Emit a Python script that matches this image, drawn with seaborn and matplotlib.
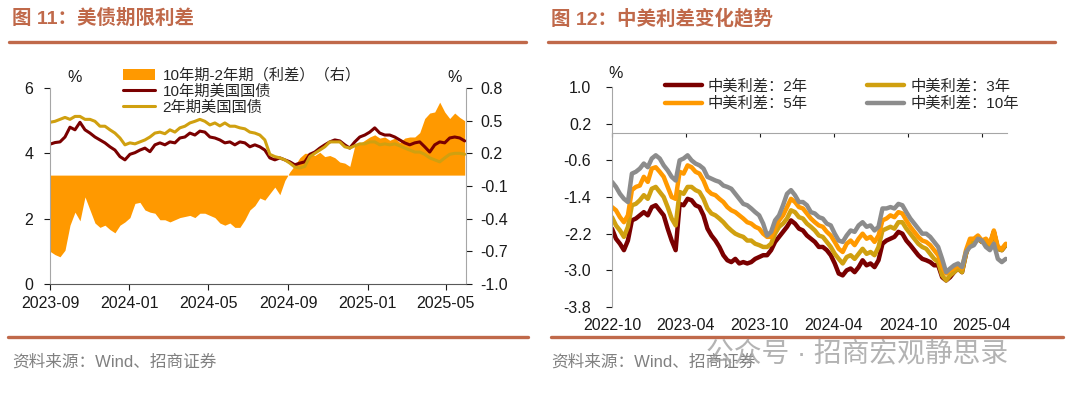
import matplotlib
matplotlib.use("Agg")
import matplotlib.pyplot as plt
import matplotlib.dates as mdates
from matplotlib.lines import Line2D
from matplotlib.patches import Patch
from matplotlib.ticker import FormatStrFormatter
import seaborn as sns
import pandas as pd

# ---------------- 图11：美债期限利差 ----------------
us_start, us_end = "2023-09-01", "2025-05-30"
ust_10y = [4.28, 4.33, 4.35, 4.50, 4.80, 4.72, 4.95, 4.72, 4.62, 4.50,
           4.41, 4.32, 4.20, 4.10, 3.90, 3.80, 3.97, 4.02, 4.10, 4.16,
           4.05, 4.26, 4.32, 4.26, 4.35, 4.32, 4.47, 4.50, 4.62, 4.56,
           4.68, 4.65, 4.50, 4.47, 4.41, 4.32, 4.35, 4.26, 4.35, 4.32,
           4.20, 4.26, 4.20, 4.10, 3.86, 3.80, 3.86, 3.80, 3.74, 3.65,
           3.70, 3.74, 3.97, 4.04, 4.16, 4.26, 4.35, 4.41, 4.38, 4.26,
           4.16, 4.35, 4.50, 4.56, 4.65, 4.78, 4.62, 4.56, 4.56, 4.50,
           4.41, 4.32, 4.26, 4.32, 4.35, 4.20, 4.04, 4.26, 4.35, 4.32,
           4.47, 4.50, 4.47, 4.38]
ust_2y = [4.95, 4.98, 5.04, 5.10, 5.04, 5.13, 5.13, 5.04, 5.04, 4.98,
          4.83, 4.83, 4.72, 4.62, 4.47, 4.26, 4.32, 4.29, 4.35, 4.41,
          4.50, 4.62, 4.65, 4.60, 4.72, 4.65, 4.78, 4.83, 4.93, 4.98,
          5.04, 4.98, 4.87, 4.93, 4.84, 4.93, 4.83, 4.83, 4.78, 4.75,
          4.65, 4.62, 4.56, 4.41, 3.97, 3.90, 3.86, 3.80, 3.70, 3.58,
          3.55, 3.60, 3.90, 4.00, 4.10, 4.20, 4.35, 4.35, 4.35, 4.20,
          4.16, 4.23, 4.29, 4.29, 4.35, 4.35, 4.26, 4.29, 4.26, 4.29,
          4.23, 4.16, 4.10, 4.04, 4.04, 3.97, 3.86, 3.80, 3.74, 3.86,
          3.97, 4.00, 4.00, 3.97]
ust_spread = [-0.70, -0.73, -0.75, -0.69, -0.46, -0.34, -0.42, -0.20, -0.32, -0.44,
              -0.48, -0.46, -0.50, -0.53, -0.46, -0.43, -0.39, -0.26, -0.25, -0.32,
              -0.34, -0.35, -0.41, -0.41, -0.43, -0.41, -0.39, -0.38, -0.37, -0.39,
              -0.35, -0.35, -0.37, -0.39, -0.44, -0.46, -0.44, -0.48, -0.48, -0.41,
              -0.32, -0.28, -0.21, -0.23, -0.17, -0.11, -0.18, -0.05, 0.03, 0.09,
              0.16, 0.20, 0.20, 0.18, 0.21, 0.17, 0.18, 0.16, 0.12, 0.11,
              0.08, 0.27, 0.29, 0.32, 0.35, 0.37, 0.34, 0.35, 0.32, 0.34,
              0.30, 0.34, 0.35, 0.35, 0.39, 0.52, 0.57, 0.58, 0.67, 0.58,
              0.52, 0.57, 0.53, 0.50]

# ---------------- 图12：中美利差变化趋势 ----------------
cn_start, cn_end = "2022-10-01", "2025-05-30"
cn_spread_2y = [-2.09, -2.31, -2.42, -2.56, -2.35, -1.91, -1.87, -1.80, -1.73, -1.80,
                -1.62, -1.58, -1.69, -1.80, -2.09, -2.35, -2.56, -1.55, -1.58, -1.44,
                -1.47, -1.58, -1.62, -1.80, -2.09, -2.24, -2.35, -2.49, -2.67, -2.78,
                -2.82, -2.75, -2.85, -2.82, -2.85, -2.82, -2.75, -2.71, -2.67, -2.67,
                -2.56, -2.38, -2.27, -2.16, -2.05, -1.91, -1.98, -2.09, -2.13, -2.24,
                -2.31, -2.38, -2.49, -2.49, -2.56, -2.67, -2.85, -3.07, -3.11, -3.00,
                -2.96, -3.04, -2.93, -2.78, -2.89, -2.85, -2.93, -2.78, -2.42, -2.35,
                -2.31, -2.27, -2.16, -2.20, -2.35, -2.45, -2.56, -2.67, -2.75, -2.78,
                -2.82, -2.89, -2.89, -3.15, -3.22, -3.15, -3.04, -2.96, -3.04, -2.64,
                -2.38, -2.38, -2.31, -2.38, -2.35, -2.45, -2.16, -2.53, -2.56, -2.45]
cn_spread_3y = [-1.84, -2.02, -2.13, -2.27, -2.05, -1.58, -1.55, -1.47, -1.36, -1.44,
                -1.22, -1.18, -1.29, -1.40, -1.62, -1.87, -2.02, -1.29, -1.33, -1.18,
                -1.18, -1.25, -1.29, -1.44, -1.65, -1.76, -1.80, -1.87, -1.95, -2.05,
                -2.13, -2.20, -2.24, -2.27, -2.35, -2.35, -2.42, -2.45, -2.49, -2.49,
                -2.42, -2.20, -2.05, -1.98, -1.87, -1.69, -1.73, -1.84, -1.87, -1.98,
                -2.05, -2.13, -2.24, -2.27, -2.38, -2.49, -2.64, -2.75, -2.85, -2.71,
                -2.67, -2.75, -2.64, -2.53, -2.64, -2.60, -2.67, -2.49, -2.13, -2.09,
                -2.05, -2.09, -1.95, -1.95, -2.09, -2.20, -2.31, -2.42, -2.49, -2.53,
                -2.64, -2.75, -2.82, -3.11, -3.22, -3.11, -3.04, -2.96, -3.04, -2.64,
                -2.38, -2.38, -2.31, -2.38, -2.35, -2.45, -2.16, -2.53, -2.56, -2.45]
cn_spread_5y = [-1.62, -1.69, -1.84, -1.95, -1.80, -1.25, -1.18, -1.15, -0.96, -1.07,
                -0.78, -0.75, -0.85, -0.96, -1.18, -1.40, -1.44, -0.85, -0.89, -0.71,
                -0.75, -0.85, -0.89, -1.04, -1.25, -1.33, -1.36, -1.44, -1.51, -1.62,
                -1.69, -1.73, -1.80, -1.87, -1.95, -1.98, -2.05, -2.09, -2.20, -2.27,
                -2.27, -2.09, -1.91, -1.80, -1.62, -1.44, -1.51, -1.62, -1.65, -1.76,
                -1.87, -1.95, -2.02, -2.05, -2.16, -2.24, -2.38, -2.53, -2.60, -2.42,
                -2.35, -2.45, -2.31, -2.20, -2.31, -2.27, -2.38, -2.24, -1.91, -1.87,
                -1.80, -1.84, -1.73, -1.76, -1.91, -2.05, -2.16, -2.27, -2.35, -2.38,
                -2.45, -2.56, -2.67, -2.93, -3.07, -3.00, -2.96, -2.89, -2.96, -2.56,
                -2.31, -2.31, -2.24, -2.35, -2.31, -2.42, -2.13, -2.49, -2.53, -2.42]
cn_spread_10y = [-1.07, -1.18, -1.33, -1.44, -1.51, -0.89, -0.85, -0.78, -0.67, -0.75,
                 -0.56, -0.49, -0.56, -0.71, -0.82, -0.96, -1.04, -0.60, -0.56, -0.49,
                 -0.60, -0.67, -0.71, -0.78, -0.96, -1.00, -1.04, -1.07, -1.15, -1.18,
                 -1.22, -1.33, -1.44, -1.55, -1.58, -1.65, -1.73, -1.80, -1.98, -2.24,
                 -2.16, -1.91, -1.80, -1.58, -1.33, -1.25, -1.36, -1.51, -1.51, -1.58,
                 -1.73, -1.76, -1.84, -1.87, -1.98, -2.02, -2.20, -2.35, -2.38, -2.24,
                 -2.13, -2.16, -2.02, -1.95, -2.05, -2.02, -2.13, -2.05, -1.65, -1.65,
                 -1.62, -1.65, -1.55, -1.58, -1.73, -1.87, -1.98, -2.09, -2.20, -2.20,
                 -2.27, -2.38, -2.49, -2.75, -3.04, -2.96, -2.89, -2.85, -2.93, -2.60,
                 -2.49, -2.45, -2.31, -2.35, -2.49, -2.56, -2.42, -2.75, -2.82, -2.75]
cn_labels = ["中美利差：2年", "中美利差：3年", "中美利差：5年", "中美利差：10年"]

# 颜色
ACCENT = "#C0694A"
RED = "#7A0000"
GOLD = "#D0A010"
ORANGE = "#FF9900"
GRAY = "#8C8C8C"
SPINE = "#A6A6A6"
TXT = "#1A1A1A"

sns.set_style("ticks")
plt.rcParams["font.family"] = ["Liberation Sans", "Noto Sans CJK SC", "DejaVu Sans"]
plt.rcParams["axes.unicode_minus"] = False

W, H = 1066, 399
fig = plt.figure(figsize=(W / 100, H / 100), dpi=100)

# =================== 左图 ===================
ax1 = fig.add_axes([50 / W, 1 - 284 / H, 416 / W, 196 / H])
ax2 = ax1.twinx()

df_us = pd.DataFrame({
    "日期": pd.date_range(us_start, us_end, periods=len(ust_10y)),
    "10年期": ust_10y,
    "2年期": ust_2y,
})
spread_dates = pd.date_range(us_start, us_end, periods=len(ust_spread))
ax2.fill_between(spread_dates, 0, ust_spread, color=ORANGE, lw=0)

sns.lineplot(data=df_us, x="日期", y="10年期", ax=ax1, color=RED, lw=2.2, estimator=None)
sns.lineplot(data=df_us, x="日期", y="2年期", ax=ax1, color=GOLD, lw=2.2, estimator=None)
ax1.set_zorder(ax2.get_zorder() + 1)
ax1.patch.set_visible(False)

ax1.set_xlim(pd.Timestamp("2023-09-01"), pd.Timestamp("2025-06-01"))
ax1.set_ylim(0, 6)
ax1.set_yticks([0, 2, 4, 6])
ax2.set_ylim(-1.0, 0.8)
ax2.set_yticks([-1.0, -0.7, -0.4, -0.1, 0.2, 0.5, 0.8])
ax2.yaxis.set_major_formatter(FormatStrFormatter("%.1f"))
ax1.xaxis.set_major_locator(mdates.MonthLocator(bymonth=[1, 5, 9]))
ax1.xaxis.set_major_formatter(mdates.DateFormatter("%Y-%m"))
ax1.set_xlabel("")
ax1.set_ylabel("")
ax2.set_ylabel("")

for a in (ax1, ax2):
    a.spines["top"].set_visible(False)
ax1.spines["right"].set_visible(False)
ax2.spines["left"].set_visible(False)
ax2.spines["bottom"].set_visible(False)
ax1.spines["left"].set_color(SPINE)
ax2.spines["right"].set_color(SPINE)
ax1.spines["bottom"].set_color("#595959")
ax1.tick_params(axis="y", length=4, pad=8, labelsize=11.5, colors=TXT)
ax1.tick_params(axis="x", length=4, pad=5, labelsize=11.5, colors=TXT)
ax2.tick_params(axis="y", length=4, pad=6, labelsize=11.5, colors=TXT)

handles = [Patch(facecolor=ORANGE, edgecolor="none"),
           Line2D([], [], color=RED, lw=2.2),
           Line2D([], [], color=GOLD, lw=2.2)]
ax1.legend(handles, ["10年期-2年期（利差）（右）", "10年期美国国债", "2年期美国国债"],
           loc="upper left", bbox_to_anchor=(0.175, 1.10), frameon=False,
           fontsize=11, handlelength=2.1, handleheight=0.7, handletextpad=0.5,
           labelspacing=0.1, borderaxespad=0, borderpad=0)

fig.text(75 / W, 1 - 78 / H, "%", ha="center", va="center", fontsize=11.5, color=TXT)
fig.text(455 / W, 1 - 78 / H, "%", ha="center", va="center", fontsize=11.5, color=TXT)

# =================== 右图 ===================
ax3 = fig.add_axes([612 / W, 1 - 307 / H, 395 / W, 220 / H])
cn_series = [cn_spread_2y, cn_spread_3y, cn_spread_5y, cn_spread_10y]
df_cn = pd.concat([
    pd.DataFrame({"日期": pd.date_range(cn_start, cn_end, periods=len(v)),
                  "利差": v, "期限": lab})
    for lab, v in zip(cn_labels, cn_series)
])
cn_colors = [RED, GOLD, ORANGE, GRAY]
sns.lineplot(data=df_cn, x="日期", y="利差", hue="期限", hue_order=cn_labels,
             palette=cn_colors, lw=3.2, estimator=None, legend=False, ax=ax3)

ax3.set_xlim(pd.Timestamp("2022-10-01"), pd.Timestamp("2025-06-02"))
ax3.set_ylim(-3.8, 1.0)
ax3.set_yticks([1.0, 0.2, -0.6, -1.4, -2.2, -3.0, -3.8])
ax3.yaxis.set_major_formatter(FormatStrFormatter("%.1f"))
ax3.xaxis.set_major_locator(mdates.MonthLocator(bymonth=[4, 10]))
ax3.set_xlabel("")
ax3.set_ylabel("")
ax3.spines["top"].set_visible(False)
ax3.spines["right"].set_visible(False)
ax3.spines["left"].set_color(SPINE)
ax3.spines["bottom"].set_color(SPINE)
ax3.spines["bottom"].set_position(("data", 0))
ax3.tick_params(axis="x", length=3, direction="out", labelbottom=False, colors=TXT)
ax3.tick_params(axis="y", length=4, pad=11, labelsize=11.5, colors=TXT)

sec = ax3.secondary_xaxis("bottom")
sec.xaxis.set_major_locator(mdates.MonthLocator(bymonth=[4, 10]))
sec.xaxis.set_major_formatter(mdates.DateFormatter("%Y-%m"))
sec.tick_params(length=0, pad=8, labelsize=11.5, colors=TXT)
sec.spines["bottom"].set_visible(False)

leg_order = [0, 2, 1, 3]
ax3.legend([Line2D([], [], color=cn_colors[i], lw=3.2) for i in leg_order],
           [cn_labels[i] for i in leg_order], ncol=2,
           loc="upper left", bbox_to_anchor=(0.134, 1.035), frameon=False,
           fontsize=11, handlelength=2.4, handletextpad=0.4,
           labelspacing=0.2, columnspacing=3.9, borderaxespad=0, borderpad=0)

fig.text(616 / W, 1 - 73 / H, "%", ha="center", va="center", fontsize=11.5, color=TXT)

# =================== 标题、分隔线、来源 ===================
fig.text(12 / W, 1 - 18 / H, "图 11：美债期限利差", color=ACCENT, fontsize=14,
         fontweight="bold", va="center")
fig.text(551 / W, 1 - 18 / H, "图 12：中美利差变化趋势", color=ACCENT, fontsize=14,
         fontweight="bold", va="center")
for x0, x1, y in [(9, 526, 42), (548, 1055, 42), (8, 528, 337), (551, 1063, 337)]:
    fig.add_artist(Line2D([x0 / W, x1 / W], [1 - y / H] * 2, color=ACCENT, lw=2.4,
                          transform=fig.transFigure))
fig.text(12 / W, 1 - 362 / H, "资料来源：Wind、招商证券", color="#808080", fontsize=12,
         va="center")
fig.text(551 / W, 1 - 362 / H, "资料来源：Wind、招商证券", color="#808080", fontsize=12,
         va="center")
fig.text(706 / W, 1 - 355 / H, "公众号 · 招商宏观静思录", color="#9A9A9A", alpha=0.75,
         fontsize=20, va="center")

fig.savefig("out.png", dpi=100)
